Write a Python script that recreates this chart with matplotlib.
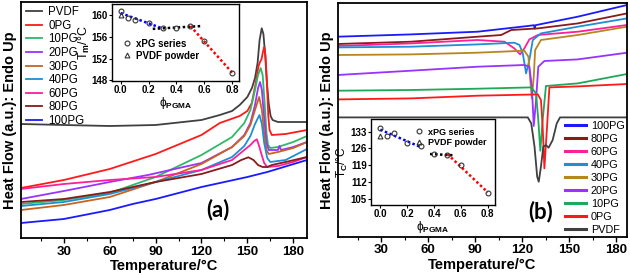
import numpy as np
import matplotlib
matplotlib.use("Agg")
import matplotlib.pyplot as plt
from matplotlib.lines import Line2D

plt.rcParams['font.family'] = ['Liberation Sans', 'DejaVu Sans']
plt.rcParams['mathtext.fontset'] = 'custom'
plt.rcParams['mathtext.rm'] = 'Liberation Sans:bold'
plt.rcParams['mathtext.it'] = 'Liberation Sans:bold'
plt.rcParams['mathtext.bf'] = 'Liberation Sans:bold'

# ---------------- data: panel (a) heating ----------------
labels_a = ["PVDF", "0PG", "10PG", "20PG", "30PG", "40PG", "60PG", "80PG", "100PG"]
colors_a = ["#404040", "#ff1a1a", "#2fb86a", "#9933ff", "#c8641e", "#1e8ed6", "#ff1f9a", "#8b1a1a", "#1a1aff"]

pvdf_T = [2, 30, 60, 90, 120, 132, 140, 145, 150, 153, 155, 156.7, 158, 159.4, 160.5, 161.6, 162.8, 164, 165.2, 166.5, 170, 180, 189]
pvdf_h = [114, 113, 112, 113, 118, 123, 127, 133, 141, 150, 160, 175, 198, 209.7, 204, 184, 155, 134, 122, 118, 116, 116, 116]
pg0_T = [2, 30, 60, 90, 120, 132, 145, 150, 152.9, 155.5, 157.3, 158.3, 159.3, 160.3, 161.1, 161.9, 162.8, 163.7, 164.5, 166, 175, 189]
pg0_h = [50, 58, 69, 84, 103, 115, 122, 127, 135, 155, 172, 176, 179, 187, 191, 182, 155, 122, 108, 103, 104, 108]
pg10_T = [2, 30, 60, 90, 120, 140, 148, 152, 155, 157, 158.7, 160, 161.3, 162.5, 163.5, 165, 170, 180, 189]
pg10_h = [34, 38, 45, 61, 83, 101, 115, 128, 148, 163, 170, 163, 135, 105, 93, 90, 91, 96, 102]
pg20_T = [2, 30, 60, 85, 120, 140, 148, 152, 155, 157, 158.3, 159.5, 161, 162.5, 164, 170, 171, 172, 180, 189]
pg20_h = [39, 47, 56, 63, 75, 91, 103, 115, 133, 150, 156, 148, 120, 95, 88, 88, 92, 88, 91, 96]
pg30_T = [2, 30, 60, 90, 120, 140, 148, 152, 155, 157.7, 159.5, 161, 162.5, 164, 170, 180, 189]
pg30_h = [28, 33, 41, 56, 74, 91, 102, 113, 128, 141, 128, 105, 88, 84, 86, 90, 96]
pg40_T = [2, 30, 60, 90, 120, 140, 148, 152, 155, 157.9, 159.5, 161, 163, 165, 175, 189]
pg40_h = [32, 36, 44, 56, 68, 81, 92, 102, 114, 123, 114, 95, 80, 76, 78, 89]
pg60_T = [2, 30, 60, 90, 120, 140, 148, 152, 154.5, 156.2, 157.5, 159, 161, 163, 170, 180, 189]
pg60_h = [49, 54, 58, 61, 68, 78, 88, 93, 97, 98.7, 93, 85, 75, 71, 72, 76, 81]
pg80_T = [2, 30, 60, 90, 120, 140, 146, 150.7, 154, 157, 160, 163, 166, 175, 189]
pg80_h = [36, 39, 46, 56, 64, 73, 78, 80.7, 78, 73, 71, 71, 73, 76, 81]
pg100_T = [2, 30, 60, 75, 90, 120, 150, 163, 189]
pg100_h = [15, 19, 28, 34, 39, 51, 61, 66, 78]

# inset (a): melting temperature
phi_a = [0.0, 0.05, 0.1, 0.2, 0.3, 0.4, 0.5, 0.6, 0.8]
tm_a = [160.9, 159.6, 159.2, 158.6, 157.7, 157.6, 158.0, 155.2, 149.4]
phi_powder_a = [0.0]
tm_powder_a = [160.0]

# ---------------- data: panel (b) cooling ----------------
labels_b = ["100PG", "80PG", "60PG", "40PG", "30PG", "20PG", "10PG", "0PG", "PVDF"]
colors_b = ["#1a1aff", "#8b1a1a", "#ff1f9a", "#1e8ed6", "#b8861e", "#9933ff", "#1fa85a", "#ff1a1a", "#404040"]

c100_T = [2, 49, 91.5, 123.6, 127.5, 128, 128.5, 155.5, 187]
c100_h = [200, 202.3, 205, 210.7, 211.5, 208, 211.5, 220, 231.7]
c80_T = [2, 49, 91.5, 106.6, 113, 130, 155.5, 187]
c80_h = [192.7, 195, 200, 201.7, 206.7, 208.3, 213.3, 223.3]
c60_T = [2, 49, 91.5, 108.7, 115, 118.7, 121.4, 124.6, 130, 155.5, 187]
c60_h = [190.7, 193.3, 196.7, 195, 188.3, 182.3, 188.3, 197.3, 201.7, 205, 211.7]
c40_T = [2, 49, 91.5, 115, 118.3, 120.4, 122.5, 124.6, 126.8, 132, 155.5, 187]
c40_h = [189.3, 190, 192.3, 194, 191.7, 183.3, 163.3, 176.7, 196.7, 203.3, 210, 218.3]
c30_T = [2, 49, 91.5, 121.4, 124, 125, 126.2, 127.4, 128.3, 132, 155.5, 187]
c30_h = [181.7, 182.3, 184, 186, 180, 160, 138.3, 160, 186.7, 196.7, 201.7, 210]
c20_T = [2, 49, 91.5, 121.4, 124.6, 126.2, 127.4, 128.9, 130.3, 134.2, 155.5, 187]
c20_h = [161.7, 166, 170, 171.7, 170, 150, 110.7, 136.7, 170, 175.7, 177.3, 184]
c10_T = [2, 49, 91.5, 125.8, 128.9, 130.3, 131.6, 133.1, 135.2, 155.5, 187]
c10_h = [146, 146.7, 148, 149.3, 143.3, 116.7, 86, 116.7, 150.7, 153.3, 162.7]
c0_T = [2, 49, 91.5, 130, 132, 133.1, 134.2, 135.9, 137.4, 155.5, 187]
c0_h = [137.3, 138.3, 141, 142.3, 136.7, 110, 68.3, 110, 149.3, 150.3, 152.7]
cpvdf_T = [2, 60, 123.6, 125.8, 127.9, 129.6, 130.6, 132, 133.5, 135.2, 136.9, 139.5, 142.1, 144.2, 187]
cpvdf_h = [119.3, 119.3, 119.3, 113.3, 90, 60, 55, 70, 90, 91.7, 89, 96.7, 113.3, 119.3, 119.3]

# inset (b): crystallization temperature
phi_b = [0.0, 0.05, 0.1, 0.2, 0.3, 0.4, 0.5, 0.6, 0.8]
tc_b = [134.7, 131.3, 132.3, 128.2, 127.1, 123.6, 123.3, 118.9, 107.5]
phi_powder_b = [0.0]
tc_powder_b = [131.2]

curves_a = [(pvdf_T, pvdf_h), (pg0_T, pg0_h), (pg10_T, pg10_h), (pg20_T, pg20_h), (pg30_T, pg30_h),
            (pg40_T, pg40_h), (pg60_T, pg60_h), (pg80_T, pg80_h), (pg100_T, pg100_h)]
curves_b = [(c100_T, c100_h), (c80_T, c80_h), (c60_T, c60_h), (c40_T, c40_h), (c30_T, c30_h),
            (c20_T, c20_h), (c10_T, c10_h), (c0_T, c0_h), (cpvdf_T, cpvdf_h)]

fig = plt.figure(figsize=(6.3, 2.75), dpi=100)

def style_main(ax, xlim, ylim):
    ax.set_xlim(*xlim)
    ax.set_ylim(*ylim)
    ax.set_xticks([30, 60, 90, 120, 150, 180])
    ax.set_xticks(np.arange(15, 190, 30), minor=True)
    ax.set_yticks([])
    ax.tick_params(axis='x', which='major', direction='out', length=3.5, width=1.0, labelsize=9.5, pad=2)
    ax.tick_params(axis='x', which='minor', direction='out', length=2, width=0.8)
    for lab in ax.get_xticklabels():
        lab.set_fontweight('bold')
    for s in ax.spines.values():
        s.set_linewidth(1.3)
    ax.set_xlabel("Temperature/°C", fontsize=10.5, fontweight='bold', labelpad=1)
    ax.set_ylabel("Heat Flow (a.u.): Endo Up", fontsize=10.5, fontweight='bold', labelpad=3)

def style_inset(ax, xlim, ylim, yticks):
    ax.set_xlim(*xlim)
    ax.set_ylim(*ylim)
    ax.set_xticks([0.0, 0.2, 0.4, 0.6, 0.8])
    ax.set_xticklabels(["0.0", "0.2", "0.4", "0.6", "0.8"])
    ax.set_yticks(yticks)
    ax.tick_params(direction='out', length=2, width=0.8, labelsize=7, pad=1)
    for lab in ax.get_xticklabels() + ax.get_yticklabels():
        lab.set_fontweight('bold')
    for s in ax.spines.values():
        s.set_linewidth(1.0)

def fit_line(ax, x, y, i0, i1, xr, color):
    p = np.polyfit(x[i0:i1], y[i0:i1], 1)
    xs = np.array(xr)
    ax.plot(xs, np.polyval(p, xs), color=color, lw=1.8, ls=(0, (1, 1)), zorder=1)

# ---------- panel (a) ----------
axa = fig.add_axes([21/630, 1-238/275, 286/630, 236/275])
for (T, h), c, lab in zip(curves_a, colors_a, labels_a):
    axa.plot(T, h, color=c, lw=1.3, label=lab)
style_main(axa, (2, 189), (0, 236))
axa.legend(loc='upper left', bbox_to_anchor=(-0.005, 1.012), frameon=False, fontsize=8.3,
           handlelength=1.35, handletextpad=0.55, labelspacing=0.14, borderaxespad=0.2)
axa.text(131, 28, "(a)", fontsize=16, fontweight='bold', family='Lato', ha='center', va='center')

ina = fig.add_axes([112/630, 1-81/275, 127/630, 77/275])
phia = np.array(phi_a); tma = np.array(tm_a)
fit_line(ina, phia, tma, 0, 5, [0.0, 0.3], 'blue')
fit_line(ina, phia, tma, 4, 7, [0.23, 0.57], 'black')
fit_line(ina, phia, tma, 6, 9, [0.5, 0.8], 'red')
ina.plot(phia, tma, 'o', mfc='none', mec='#333333', ms=3.5, mew=0.8, label='xPG series', zorder=3)
ina.plot(phi_powder_a, tm_powder_a, '^', mfc='none', mec='#333333', ms=3.5, mew=0.8, label='PVDF powder', zorder=3)
style_inset(ina, (-0.062, 0.848), (147.9, 162.1), [148, 152, 156, 160])
ina.set_ylabel("T$_m$/°C", fontsize=9, labelpad=0)
ina.yaxis.set_label_coords(-0.155, 0.5)
ina.set_xlabel("ϕ$_{PGMA}$", fontsize=8.5, labelpad=0)
ina.legend(loc='lower left', bbox_to_anchor=(0.0, 0.15), frameon=False,
           prop={'weight': 'bold', 'size': 7}, handlelength=1.2, handletextpad=0.4, labelspacing=0.2)

# ---------- panel (b) ----------
axb = fig.add_axes([338/630, 1-236.7/275, 289/630, 234/275])
for (T, h), c, lab in zip(curves_b, colors_b, labels_b):
    axb.plot(T, h, color=c, lw=1.3, label=lab)
style_main(axb, (2.3, 187), (0, 234))
handles = [Line2D([], [], color=c, lw=2.2) for c in colors_b]
axb.legend(handles, labels_b, loc='lower right', bbox_to_anchor=(1.0, 0.0), frameon=False, fontsize=7.8,
           handlelength=1.9, handletextpad=0.5, labelspacing=0.27, borderaxespad=0.0, borderpad=0.2)
axb.text(131.5, 24.7, "(b)", fontsize=16, fontweight='bold', family='Lato', ha='center', va='center')

inb = fig.add_axes([371/630, 1-205/275, 124/630, 85.5/275])
phib = np.array(phi_b); tcb = np.array(tc_b)
fit_line(inb, phib, tcb, 0, 5, [0.0, 0.3], 'blue')
fit_line(inb, phib, tcb, 5, 7, [0.37, 0.55], 'black')
fit_line(inb, phib, tcb, 6, 9, [0.5, 0.8], 'red')
inb.plot(phib, tcb, 'o', mfc='none', mec='#333333', ms=3.5, mew=0.8, label='xPG series', zorder=3)
inb.plot(phi_powder_b, tc_powder_b, '^', mfc='none', mec='#333333', ms=3.5, mew=0.8, label='PVDF powder', zorder=3)
style_inset(inb, (-0.069, 0.854), (102.4, 138.1), [105, 112, 119, 126, 133])
inb.set_ylabel("T$_C$/°C", fontsize=8.5, labelpad=0)
inb.set_xlabel("ϕ$_{PGMA}$", fontsize=8.5, labelpad=0)
inb.legend(loc='upper right', bbox_to_anchor=(1.0, 1.0), frameon=False,
           prop={'weight': 'bold', 'size': 6.5}, handlelength=1.2, handletextpad=0.4, labelspacing=0.2)

fig.savefig("out.png", dpi=100)
